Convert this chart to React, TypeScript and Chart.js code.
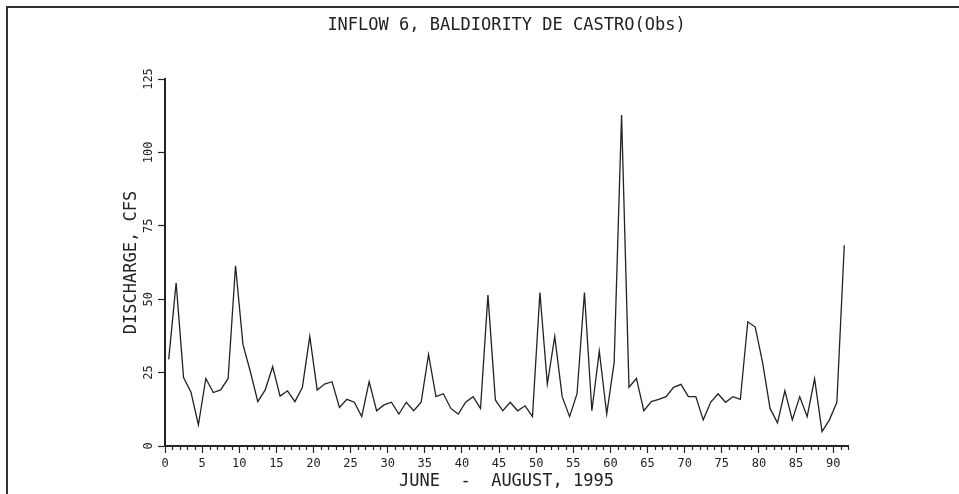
import React, { useEffect, useRef } from "react";
import { Chart, registerables } from "chart.js";

Chart.register(...registerables);

const TITLE = "INFLOW 6, BALDIORITY DE CASTRO(Obs)";
const X_TITLE = "JUNE  -  AUGUST, 1995";
const Y_TITLE = "DISCHARGE, CFS";

// daily mean discharge (cfs), June 1 .. August 31, 1995, plotted at mid-day
const discharge = [
  29.5, 55.6, 23.3, 18.3, 7.2, 23.0, 18.2, 19.1, 23.0, 61.4,
  34.6, 25.3, 15.1, 19.1, 27.0, 17.0, 18.8, 15.1, 19.9, 37.3,
  19.1, 21.1, 21.9, 13.1, 15.9, 14.9, 10.0, 21.9, 12.0, 14.0,
  14.9, 10.9, 14.9, 12.0, 14.9, 31.2, 16.8, 17.8, 12.8, 10.9,
  14.9, 16.8, 12.8, 51.4, 15.7, 12.0, 14.9, 12.0, 13.7, 10.0,
  52.3, 21.1, 37.3, 16.8, 10.0, 17.8, 52.3, 12.0, 32.3, 10.9,
  28.4, 112.7, 20.0, 23.0, 12.0, 15.1, 15.9, 16.8, 20.0, 21.0,
  16.8, 16.8, 8.9, 14.9, 17.8, 14.9, 16.8, 15.9, 42.3, 40.5,
  28.4, 12.8, 7.9, 18.8, 8.9, 16.8, 10.0, 22.9, 4.9, 8.9,
  14.9, 68.4,
];

const X_MIN = 0;
const X_MAX = 92;
const X_STEP = 5;
const Y_MIN = 0;
const Y_MAX = 125;
const Y_STEP = 25;
const DAY_MID = 0.5;

const INK = "#222";
const FONT = "'DejaVu Sans Mono', monospace";

const extrasPlugin = {
  id: "extras",
  afterDraw(chart: any) {
    const ctx = chart.ctx;
    const xs = chart.scales.x;
    const ys = chart.scales.y;
    const area = chart.chartArea;
    ctx.save();
    // title, centred over the plot area
    ctx.fillStyle = INK;
    ctx.font = `17px ${FONT}`;
    ctx.textAlign = "center";
    ctx.textBaseline = "middle";
    ctx.fillText(TITLE, (area.left + area.right) / 2, 26);
    // minor x ticks
    ctx.strokeStyle = INK;
    ctx.lineWidth = 1.2;
    const bottom = area.bottom;
    for (let v = X_MIN + 1; v <= X_MAX; v++) {
      if (v % X_STEP === 0) continue;
      const px = Math.round(xs.getPixelForValue(v)) + 0.5;
      ctx.beginPath();
      ctx.moveTo(px, bottom);
      ctx.lineTo(px, bottom + 4);
      ctx.stroke();
    }
    // rotated y tick labels
    ctx.font = `12px ${FONT}`;
    for (const t of ys.ticks) {
      const py = ys.getPixelForValue(t.value);
      ctx.save();
      ctx.translate(149, py);
      ctx.rotate(-Math.PI / 2);
      ctx.fillText(String(t.value), 0, 0);
      ctx.restore();
    }
    ctx.restore();
  },
};

export default function App() {
  const ref = useRef<HTMLCanvasElement | null>(null);

  useEffect(() => {
    if (!ref.current) return;
    const chart = new Chart(ref.current, {
      type: "line",
      data: {
        datasets: [
          {
            data: discharge.map((v, i) => ({ x: i + DAY_MID, y: v })),
            borderColor: INK,
            borderWidth: 1.3,
            pointRadius: 0,
            tension: 0,
            fill: false,
          },
        ],
      },
      options: {
        animation: false,
        responsive: false,
        layout: { padding: { left: 54, right: 111, top: 79, bottom: 0 } },
        plugins: {
          legend: { display: false },
          tooltip: { enabled: false },
          title: { display: false },
        },
        scales: {
          x: {
            type: "linear",
            min: X_MIN,
            max: X_MAX,
            ticks: {
              stepSize: X_STEP,
              includeBounds: false,
              color: INK,
              padding: 4,
              maxRotation: 0,
              font: { family: FONT, size: 12 },
            },
            grid: {
              drawOnChartArea: false,
              drawTicks: true,
              tickLength: 7,
              tickWidth: 1.2,
              tickColor: INK,
            },
            border: { display: true, color: INK, width: 2 },
            title: {
              display: true,
              text: X_TITLE,
              color: INK,
              font: { family: FONT, size: 17 },
              padding: { top: 0, bottom: 2 },
            },
            afterFit(scale: any) {
              scale.height = 48;
            },
          },
          y: {
            type: "linear",
            min: Y_MIN,
            max: Y_MAX,
            ticks: { stepSize: Y_STEP, display: false },
            grid: {
              drawOnChartArea: false,
              drawTicks: true,
              tickLength: 7,
              tickWidth: 1.2,
              tickColor: INK,
            },
            border: { display: true, color: INK, width: 2 },
            title: {
              display: true,
              text: Y_TITLE,
              color: INK,
              font: { family: FONT, size: 17 },
              padding: { top: 67, bottom: 0 },
            },
            afterFit(scale: any) {
              scale.width = 111;
            },
          },
        },
      },
      plugins: [extrasPlugin],
    });
    return () => chart.destroy();
  }, []);

  return (
    <div style={{ position: "absolute", left: 0, top: 0, width: 959, height: 494, background: "#fff", overflow: "hidden" }}>
      <div
        style={{
          position: "absolute",
          left: 6,
          top: 6,
          right: 0,
          bottom: 0,
          borderTop: "2px solid #333",
          borderLeft: "2px solid #333",
        }}
      />
      <canvas ref={ref} width={959} height={494} style={{ position: "absolute", left: 0, top: 0 }} />
    </div>
  );
}
